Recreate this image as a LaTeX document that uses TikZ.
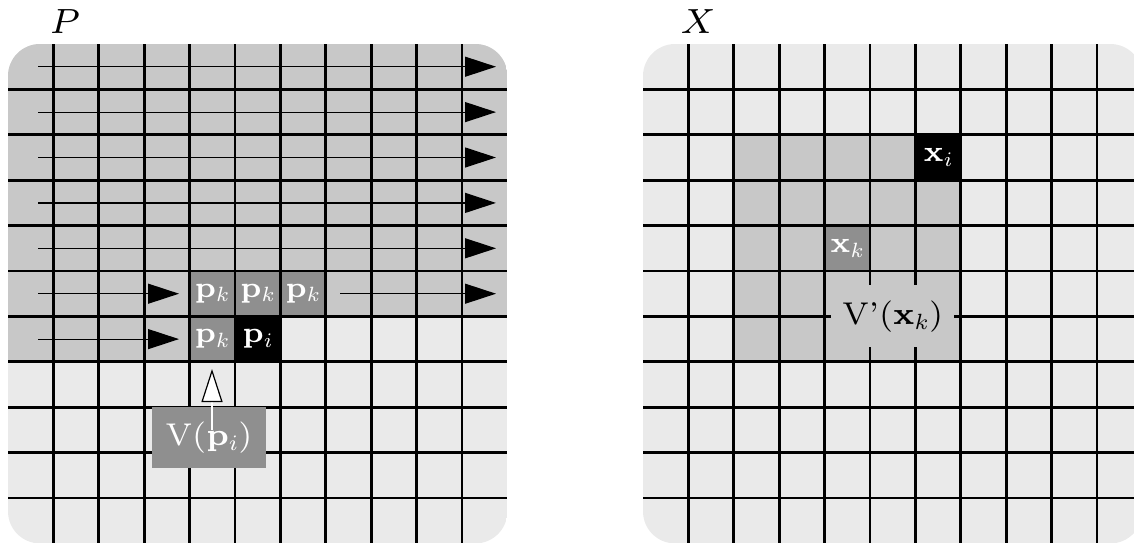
\RequirePackage{fix-cm}
\documentclass[tikz,border=0pt]{standalone}
\usetikzlibrary{arrows.meta}
\DeclareFontShape{OT1}{cmr}{m}{n}{<->cmr7}{}
\DeclareFontShape{OT1}{cmr}{bx}{n}{<->cmbx7}{}
\DeclareFontShape{OML}{cmm}{m}{it}{<->cmmi7}{}
\definecolor{lightg}{gray}{0.918}
\definecolor{midg}{gray}{0.784}
\definecolor{darkg}{gray}{0.56}
\tikzset{
  gridline/.style={line width=2.9pt, black},
  cellbox/.style={fill=#1, minimum size=45.4pt, inner sep=0pt, text=white,
    font=\fontsize{29.5}{34}\selectfont},
  rowarrow/.style={line width=1.2pt, -{Triangle[length=31pt,width=20pt]}},
  biglabel/.style={inner sep=0pt, font=\fontsize{31.5}{38}\selectfont},
  titlelabel/.style={inner sep=0pt, font=\fontsize{35}{42}\selectfont},
}
\begin{document}
\begin{tikzpicture}[x=1pt,y=-1pt]
\useasboundingbox (0,0) rectangle (1134,542);
\def\cs{45.4}
% ---------- left panel ----------
\begin{scope}
  \clip[rounded corners=32pt] (8,44) rectangle (507.4,543.4);
  \fill[lightg] (8,44) rectangle (507.4,543.4);
  \fill[midg] (8,44) rectangle (507.4,316.4);
  \fill[midg] (8,316.4) rectangle (189.6,361.8);
\end{scope}
\node[cellbox=darkg] (pk1) at ({8+4.5*\cs},{44+5.5*\cs}) {$\mathbf{p}_k$};
\node[cellbox=darkg] (pk2) at ({8+5.5*\cs},{44+5.5*\cs}) {$\mathbf{p}_k$};
\node[cellbox=darkg] (pk3) at ({8+6.5*\cs},{44+5.5*\cs}) {$\mathbf{p}_k$};
\node[cellbox=darkg] (pk4) at ({8+4.5*\cs},{44+6.5*\cs}) {$\mathbf{p}_k$};
\node[cellbox=black] (pi) at ({8+5.5*\cs},{44+6.5*\cs}) {$\mathbf{p}_i$};
\foreach \i in {1,...,10} {
  \draw[gridline] ({8+\i*\cs},44) -- ({8+\i*\cs},543.4);
  \draw[gridline] (8,{44+\i*\cs}) -- (507.4,{44+\i*\cs});
}
% row arrows
\foreach \r in {0,...,4} {
  \coordinate (as\r) at (38,{44+(\r+0.5)*\cs});
  \coordinate (ae\r) at (496,{44+(\r+0.5)*\cs});
  \draw[rowarrow] (as\r) -- (ae\r);
}
\coordinate (as5) at (38,{44+5.5*\cs});
\coordinate (am5) at (179,{44+5.5*\cs});
\coordinate (bs5) at (340,{44+5.5*\cs});
\coordinate (ae5) at (496,{44+5.5*\cs});
\draw[rowarrow] (as5) -- (am5);
\draw[rowarrow] (bs5) -- (ae5);
\coordinate (as6) at (38,{44+6.5*\cs});
\coordinate (am6) at (179,{44+6.5*\cs});
\draw[rowarrow] (as6) -- (am6);
% V(p_i) box
\node[biglabel, fill=darkg, text=white, minimum width=114pt, minimum height=61pt]
  (vp) at (209,437.5) {$\mathrm{V}(\mathbf{p}_i)$};
\coordinate (vpin) at (212,430);
\coordinate (vptip) at (212,369);
\draw[white, line width=1.2pt,
  -{Triangle[length=33pt,width=21pt,fill=white,color=black,line width=1.2pt]}]
  (vpin) -- (vptip);
\node[titlelabel] (labP) at (65,22) {$P$};
% ---------- right panel ----------
\begin{scope}
  \clip[rounded corners=32pt] (643,44) rectangle (1142.4,543.4);
  \fill[lightg] (643,44) rectangle (1142.4,543.4);
  \fill[midg] ({643+2*\cs},{44+2*\cs}) rectangle ({643+7*\cs},{44+7*\cs});
\end{scope}
\node[cellbox=black] (xi) at ({643+6.5*\cs},{44+2.5*\cs}) {$\mathbf{x}_i$};
\node[cellbox=darkg] (xk) at ({643+4.5*\cs},{44+4.5*\cs}) {$\mathbf{x}_k$};
\foreach \i in {1,...,10} {
  \draw[gridline] ({643+\i*\cs},44) -- ({643+\i*\cs},543.4);
  \draw[gridline] (643,{44+\i*\cs}) -- (1142.4,{44+\i*\cs});
}
\node[biglabel, fill=midg, minimum width=123pt, minimum height=62pt]
  (vx) at ({643+5.5*\cs},316.4) {$\mathrm{V}\mathchar"0027(\mathbf{x}_k)$};
\node[titlelabel] (labX) at (698,22) {$X$};
\end{tikzpicture}
\end{document}
